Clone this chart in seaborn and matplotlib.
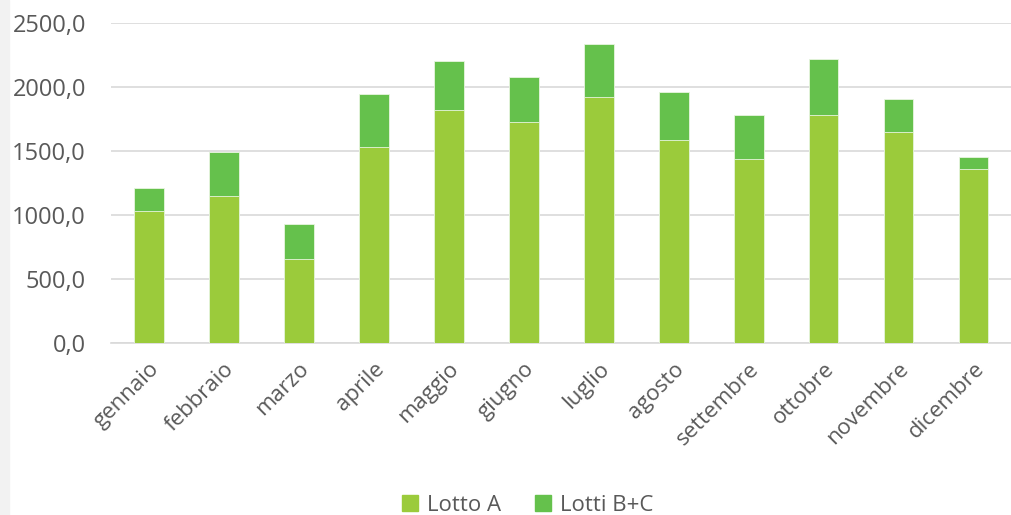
import pandas as pd
import matplotlib
matplotlib.use("Agg")
import matplotlib.pyplot as plt
import matplotlib.patches as mpatches
from matplotlib.ticker import FuncFormatter
import seaborn as sns

# Monthly values
mesi = ["gennaio", "febbraio", "marzo", "aprile", "maggio", "giugno",
        "luglio", "agosto", "settembre", "ottobre", "novembre", "dicembre"]
lotto_a = [1034, 1148, 656, 1534, 1820, 1727, 1922, 1586, 1438, 1781, 1651, 1362]
lotti_bc = [177, 349, 278, 411, 383, 351, 416, 377, 346, 440, 255, 96]

col_a = "#9BCB3B"
col_bc = "#65C14C"
grigio = "#595959"

df = pd.DataFrame({"mese": mesi, "A": lotto_a, "BC": lotti_bc})
df["totale"] = df["A"] + df["BC"]

sns.set_theme(style="white")
plt.rcParams["font.family"] = ["Open Sans", "DejaVu Sans"]

fig = plt.figure(figsize=(10.11, 5.15), dpi=100)
fig.patches.append(mpatches.Rectangle((0, 0), 9 / 1011, 1, transform=fig.transFigure,
                                      color="#f2f2f2", zorder=0))
ax = fig.add_axes([111 / 1011, 1 - 343.3 / 515, 900 / 1011, 320.3 / 515])

# stacked bars: total first (B+C colour), then Lotto A over it
sns.barplot(data=df, x="mese", y="totale", color=col_bc, width=0.4, ax=ax,
            saturation=1, edgecolor="#e8f5e0", linewidth=0.6, zorder=2)
sns.barplot(data=df, x="mese", y="A", color=col_a, width=0.4, ax=ax,
            saturation=1, edgecolor="#e8f5e0", linewidth=0.6, zorder=3)

ax.set_xlim(-0.5, 11.5)
ax.set_ylim(0, 2500)
ax.set_yticks([0, 500, 1000, 1500, 2000, 2500])
ax.yaxis.set_major_formatter(FuncFormatter(lambda v, p: f"{v:.1f}".replace(".", ",")))
ax.yaxis.grid(True, color="#d9d9d9", linewidth=1.2, zorder=0)
ax.set_axisbelow(True)
for s in ["top", "right", "left"]:
    ax.spines[s].set_visible(False)
ax.spines["bottom"].set_color("#d9d9d9")
ax.spines["bottom"].set_linewidth(1.2)
ax.set_xlabel("")
ax.set_ylabel("")
ax.tick_params(axis="y", length=0, pad=18, labelsize=17, labelcolor=grigio)
ax.tick_params(axis="x", length=0, pad=11, labelsize=16, labelcolor=grigio)
plt.setp(ax.get_xticklabels(), rotation=45, ha="right", rotation_mode="anchor")

handles = [mpatches.Patch(color=col_a, label="Lotto A"),
           mpatches.Patch(color=col_bc, label="Lotti B+C")]
fig.legend(handles=handles, loc="lower center", bbox_to_anchor=(0.522, -0.04), ncol=2,
           frameon=False, fontsize=16, labelcolor=grigio, handlelength=0.75,
           handleheight=0.75, handletextpad=0.4, columnspacing=1.5)

fig.savefig("out.png", dpi=100, facecolor="white")
